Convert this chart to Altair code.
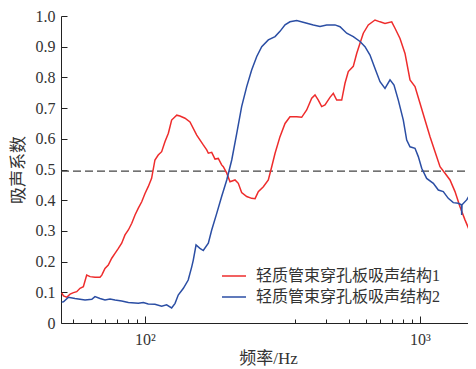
import altair as alt
import pandas as pd

# Series 1: 轻质管束穿孔板吸声结构1 (frequency Hz, absorption coefficient)
freq_1 = [34.4, 35.2, 36.7, 38.3, 40.0, 41.7, 43.5, 45.4, 47.4, 49.5, 52.7, 56.2, 57.5, 59.9,
          62.5, 65.3, 68.1, 71.1, 74.2, 77.4, 80.8, 84.4, 88.0, 91.8, 95.9, 100.0, 101.5, 103.1,
          104.7, 106.3, 108.0, 109.7, 111.4, 113.1, 114.9, 115.8, 117.5, 120.3, 123.1, 127.0,
          130.9, 133.0, 134.0, 136.1, 138.2, 140.3, 142.5, 143.6, 145.9, 148.1, 151.6, 153.9,
          156.3, 160.0, 163.7, 166.3, 168.8, 172.8, 176.8, 179.6, 182.4, 186.6, 191.0, 195.4,
          204.4, 218.0, 232.5, 248.0, 258.8, 270.0, 282.0, 294.3, 313.8, 327.5, 342.1, 364.9,
          380.7, 397.2, 423.6, 442.6, 461.9, 481.9, 513.9, 560.3, 597.5, 637.2, 694.7, 724.8,
          773.1, 824.4, 879.3, 937.7, 1000, 1066, 1137, 1212, 1292, 1377, 1468, 1565, 1668,
          1778, 1896, 2021]
alpha_1 = [0.098, 0.088, 0.084, 0.094, 0.099, 0.102, 0.113, 0.118, 0.156, 0.151, 0.149, 0.149,
           0.156, 0.178, 0.189, 0.211, 0.227, 0.243, 0.260, 0.287, 0.303, 0.325, 0.352, 0.374,
           0.395, 0.422, 0.444, 0.471, 0.531, 0.547, 0.558, 0.591, 0.618, 0.661, 0.672, 0.677,
           0.674, 0.667, 0.655, 0.612, 0.580, 0.564, 0.553, 0.556, 0.534, 0.536, 0.515, 0.509,
           0.488, 0.460, 0.466, 0.455, 0.425, 0.412, 0.406, 0.405, 0.428, 0.444, 0.466, 0.509,
           0.553, 0.607, 0.650, 0.672, 0.672, 0.670, 0.694, 0.732, 0.743, 0.726, 0.705, 0.710,
           0.735, 0.748, 0.726, 0.726, 0.781, 0.819, 0.836, 0.878, 0.911, 0.944, 0.971, 0.987,
           0.981, 0.976, 0.981, 0.960, 0.927, 0.878, 0.792, 0.770, 0.716, 0.661, 0.607, 0.558,
           0.509, 0.488, 0.466, 0.428, 0.379, 0.336, 0.297, 0.276]

# Series 2: 轻质管束穿孔板吸声结构2
freq_2 = [34.4, 35.2, 37.5, 40.8, 46.4, 50.6, 52.7, 56.2, 59.9, 63.9, 68.1, 74.2, 80.8, 91.8,
          97.9, 101.5, 104.7, 108.0, 110.5, 113.1, 114.9, 116.6, 119.4, 122.1, 124.1, 125.0,
          126.6, 128.9, 130.9, 134.0, 136.1, 139.3, 142.5, 145.9, 149.3, 152.8, 156.3, 160.0,
          163.7, 167.6, 171.5, 176.8, 182.4, 186.6, 191.0, 195.4, 204.4, 227.5, 253.2, 276.0,
          300.8, 334.7, 357.0, 389.1, 423.6, 461.9, 492.5, 525.3, 560.3, 597.5, 637.2, 679.7,
          715.5, 756.3, 806.6, 842.6, 879.3, 937.7, 978.4, 1022, 1089, 1186, 1264, 1347, 1436,
          1531, 1632, 1700, 1705, 1712, 1817, 1938, 2021, 2047]
alpha_2 = [0.068, 0.069, 0.084, 0.080, 0.075, 0.077, 0.086, 0.080, 0.075, 0.078, 0.075, 0.072,
           0.067, 0.064, 0.067, 0.062, 0.061, 0.055, 0.059, 0.049, 0.064, 0.091, 0.113, 0.140,
           0.183, 0.205, 0.254, 0.243, 0.236, 0.260, 0.303, 0.357, 0.412, 0.466, 0.531, 0.618,
           0.705, 0.770, 0.824, 0.868, 0.900, 0.922, 0.933, 0.950, 0.971, 0.981, 0.985, 0.978,
           0.971, 0.966, 0.971, 0.971, 0.965, 0.944, 0.933, 0.917, 0.900, 0.873, 0.829, 0.786,
           0.764, 0.792, 0.775, 0.726, 0.661, 0.596, 0.574, 0.569, 0.542, 0.504, 0.471, 0.455,
           0.433, 0.428, 0.406, 0.392, 0.390, 0.385, 0.352, 0.385, 0.401, 0.428, 0.455, 0.470]

series_names = ["轻质管束穿孔板吸声结构1", "轻质管束穿孔板吸声结构2"]
series_colors = ["#ee2c2c", "#2b4ea4"]

# reference line
ref_freq = [34.1, 1848]
ref_alpha = [0.495, 0.495]

# breakpoints of the original (non-uniform) logarithmic frequency axis
x_domain = [34.1, 100, 200, 1000, 1848]
x_frac = [0, 84 / 407, 234 / 407, 359 / 407, 1]
x_ticks = [40, 50, 60, 70, 80, 90, 100, 200, 300, 400, 500, 600, 700, 800, 900, 1000]
y_ticks = [0, 0.1, 0.2, 0.3, 0.4, 0.5, 0.6, 0.7, 0.8, 0.9, 1.0]

FONT = "Liberation Serif, Noto Sans CJK SC"

df = pd.concat([
    pd.DataFrame({"f": freq_1, "a": alpha_1, "s": series_names[0], "o": range(len(freq_1))}),
    pd.DataFrame({"f": freq_2, "a": alpha_2, "s": series_names[1], "o": range(len(freq_2))}),
])
ref = pd.DataFrame({"f": ref_freq, "a": ref_alpha})

xscale = alt.Scale(type="log", domain=x_domain,
                   range=[alt.ExprRef(f"width * {v}") for v in x_frac], nice=False)
yscale = alt.Scale(domain=[0, 1], nice=False)

xaxis = alt.Axis(
    title="频率/Hz", values=x_ticks, grid=False, labelOverlap=False,
    labelExpr="datum.value == 100 ? '10²' : datum.value == 1000 ? '10³' : ''",
    tickSize=alt.ExprRef("datum.value == 100 || datum.value == 1000 ? -7 : -4"),
    labelPadding=15, titlePadding=0, labelFlush=False, titleX=207,
)
yaxis = alt.Axis(
    title="吸声系数", values=y_ticks, grid=False, labelOverlap=False,
    labelExpr="datum.value == 0 ? '0' : format(datum.value, '.1f')",
    tickSize=alt.ExprRef("-6"), labelPadding=12, titlePadding=8,
)

lines = alt.Chart(df).mark_line(strokeWidth=1.5, clip=True).encode(
    x=alt.X("f:Q", scale=xscale, axis=xaxis),
    y=alt.Y("a:Q", scale=yscale, axis=yaxis),
    order="o:Q",
    color=alt.Color("s:N", scale=alt.Scale(domain=series_names, range=series_colors),
                    legend=alt.Legend(title=None, orient="none", legendX=160, legendY=247,
                                      symbolType="stroke", symbolSize=576, symbolStrokeWidth=1.5,
                                      labelFontSize=16, labelFont=FONT, labelColor="#333",
                                      labelLimit=400, labelOffset=9, rowPadding=0, padding=0)),
)

dash = alt.Chart(ref).mark_line(strokeDash=[8, 4], strokeWidth=1.3, color="#444",
                                clip=True).encode(
    x=alt.X("f:Q", scale=xscale, axis=xaxis),
    y=alt.Y("a:Q", scale=yscale, axis=yaxis),
)

chart = alt.layer(dash, lines).properties(
    width=407, height=307,
    autosize=alt.AutoSizeParams(type="none"),
    padding={"left": 53, "top": 8, "right": 0, "bottom": 46},
).configure_view(stroke=None).configure_axis(
    labelFont=FONT, titleFont=FONT, labelFontSize=16, titleFontSize=17,
    labelColor="#333", titleColor="#333", titleFontWeight="normal",
    domainColor="#222", tickColor="#222", domainWidth=1, tickWidth=1,
)

chart.save("out.html", embed_options={"renderer": "svg", "actions": False})
